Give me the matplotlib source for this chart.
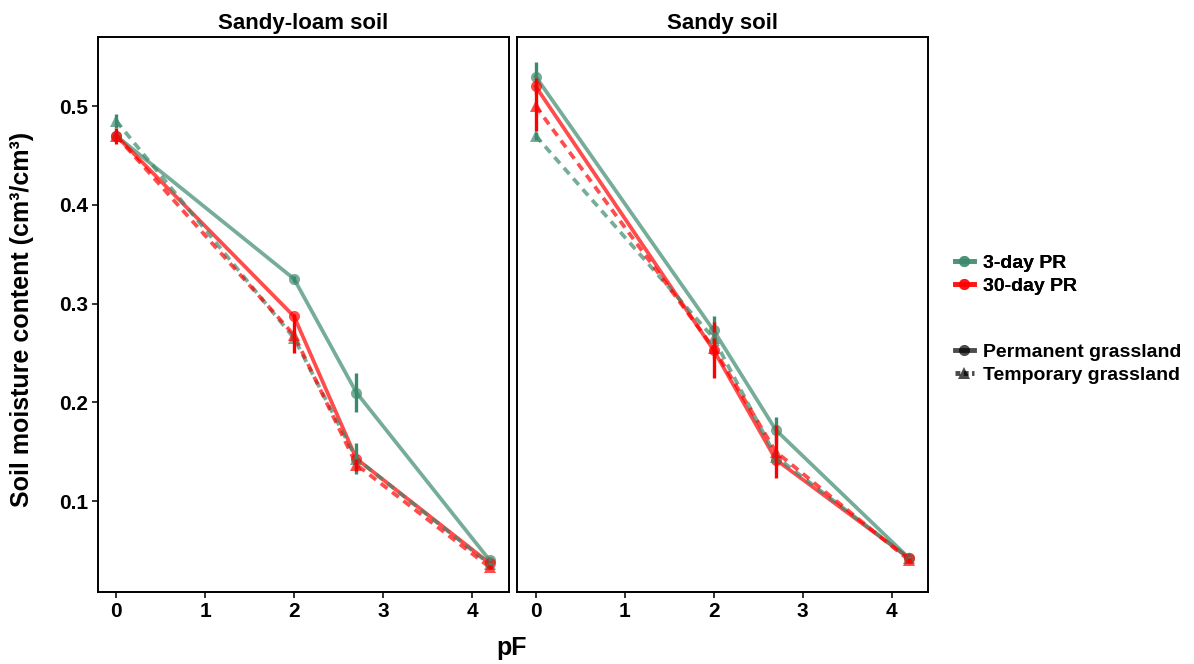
import numpy as np
import matplotlib
matplotlib.use("Agg")
import matplotlib.pyplot as plt
from matplotlib.lines import Line2D

plt.rcParams['font.family'] = ['Liberation Sans', 'DejaVu Sans']
plt.rcParams['font.weight'] = 'bold'

# datos
pF = [0, 2, 2.7, 4.2]
suelos = ["Sandy-loam soil", "Sandy soil"]

# Sandy-loam soil
sl_perm_3 = [0.470, 0.325, 0.210, 0.040]
sl_perm_3_err = [0.005, 0.003, 0.020, 0.003]
sl_perm_30 = [0.470, 0.287, 0.143, 0.037]
sl_perm_30_err = [0.008, 0.003, 0.005, 0.002]
sl_temp_3 = [0.485, 0.265, 0.143, 0.036]
sl_temp_3_err = [0.007, 0.005, 0.016, 0.002]
sl_temp_30 = [0.470, 0.268, 0.137, 0.033]
sl_temp_30_err = [0.005, 0.018, 0.006, 0.002]

# Sandy soil
s_perm_3 = [0.530, 0.273, 0.172, 0.042]
s_perm_3_err = [0.015, 0.014, 0.013, 0.003]
s_perm_30 = [0.520, 0.253, 0.142, 0.042]
s_perm_30_err = [0.008, 0.028, 0.006, 0.003]
s_temp_3 = [0.470, 0.265, 0.145, 0.042]
s_temp_3_err = [0.004, 0.006, 0.006, 0.002]
s_temp_30 = [0.500, 0.255, 0.150, 0.040]
s_temp_30_err = [0.025, 0.010, 0.027, 0.002]

verde = '#3C8A6E'
rojo = '#FF0000'

datos = [
    [(sl_perm_3, sl_perm_3_err, verde, 'o', '-'),
     (sl_perm_30, sl_perm_30_err, rojo, 'o', '-'),
     (sl_temp_3, sl_temp_3_err, verde, '^', '--'),
     (sl_temp_30, sl_temp_30_err, rojo, '^', '--')],
    [(s_perm_3, s_perm_3_err, verde, 'o', '-'),
     (s_perm_30, s_perm_30_err, rojo, 'o', '-'),
     (s_temp_3, s_temp_3_err, verde, '^', '--'),
     (s_temp_30, s_temp_30_err, rojo, '^', '--')],
]

W, H = 1194, 664
fig = plt.figure(figsize=(W / 100, H / 100), dpi=100)

izq = [97.5, 517]
ancho = 411
arriba, abajo = 37, 592

for i in range(2):
    ax = fig.add_axes([izq[i] / W, (H - abajo) / H, ancho / W, (abajo - arriba) / H])
    for y, e, c, m, ls in datos[i]:
        if ls == '--':
            ax.plot(pF, y, color=c, alpha=0.7, lw=2.7, dashes=(2.2, 1.6), zorder=2)
        else:
            ax.plot(pF, y, color=c, alpha=0.7, lw=2.7, zorder=2)
        ax.plot(pF, y, linestyle='none', marker=m, color=c, alpha=0.7, ms=8, mew=0, zorder=3)
        ax.errorbar(pF, y, yerr=e, fmt='none', ecolor=c, elinewidth=2.4, capsize=0, zorder=4)
    ax.set_xlim(-0.21, 4.41)
    ax.set_ylim(0.008, 0.570)
    ax.set_xticks([0, 1, 2, 3, 4])
    ax.set_yticks([0.1, 0.2, 0.3, 0.4, 0.5])
    ax.tick_params(axis='both', direction='out', length=4, width=1.4, labelsize=15,
                   colors='#333333', labelcolor='black', pad=3)
    for lab in ax.get_xticklabels() + ax.get_yticklabels():
        lab.set_fontweight('bold')
    if i == 1:
        ax.tick_params(axis='y', left=False, labelleft=False)
    for sp in ax.spines.values():
        sp.set_linewidth(1.4)
        sp.set_color('black')
    ax.set_title(suelos[i], fontsize=16, fontweight='bold', pad=6)

fig.text(22 / W, (H - 319) / H, 'Soil moisture content (cm³/cm³)', rotation=90,
         ha='center', va='center', fontsize=18, fontweight='bold')
fig.text(512 / W, (H - 648) / H, 'pF', ha='center', va='center', fontsize=18, fontweight='bold')

# leyendas
h_color = [Line2D([], [], color=verde, alpha=0.7, lw=3.5, marker='o', ms=8, mew=0),
           Line2D([], [], color=rojo, alpha=0.7, lw=3.5, marker='o', ms=8, mew=0)]
leg1 = fig.legend(h_color, ['3-day PR', '30-day PR'], loc='center left',
                  bbox_to_anchor=(937 / W, (H - 274.5) / H), frameon=False,
                  prop={'size': 14, 'weight': 'bold'}, handlelength=1.0,
                  handletextpad=0.45, labelspacing=0.3)
h_forma = [Line2D([], [], color='black', alpha=0.7, lw=3.5, marker='o', ms=8, mew=0),
           Line2D([], [], color='black', alpha=0.7, lw=3.5, ls='--', dashes=(1.0, 0.7), marker='^', ms=8, mew=0)]
leg2 = fig.legend(h_forma, ['Permanent grassland', 'Temporary grassland'], loc='center left',
                  bbox_to_anchor=(937 / W, (H - 363.5) / H), frameon=False,
                  prop={'size': 14, 'weight': 'bold'}, handlelength=1.0,
                  handletextpad=0.45, labelspacing=0.3)
fig.add_artist(leg1)

fig.savefig('out.png', dpi=100)
